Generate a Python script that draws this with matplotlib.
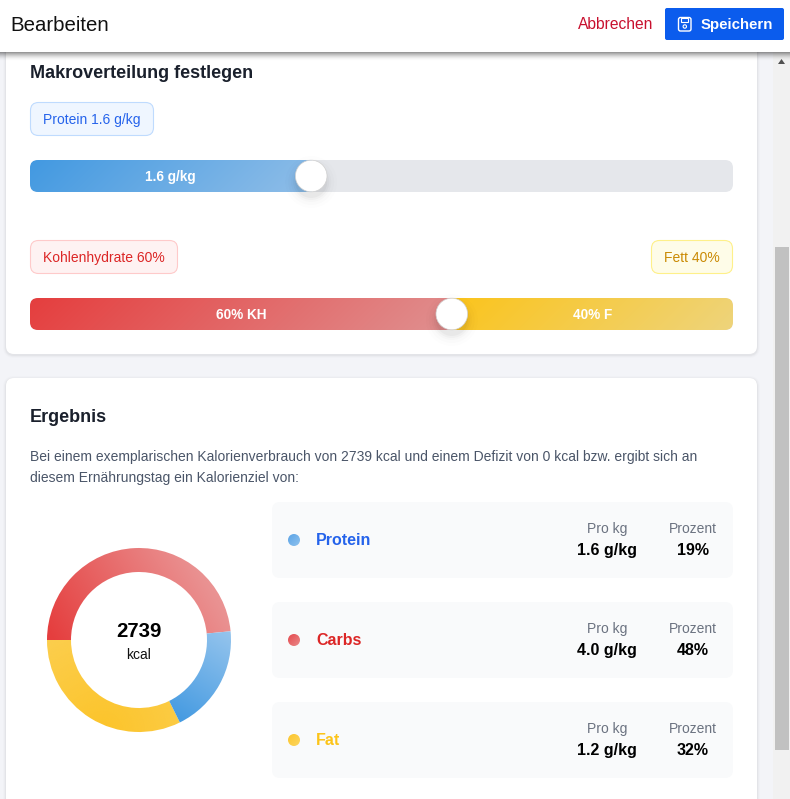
import numpy as np
import matplotlib
matplotlib.use("Agg")
import matplotlib.pyplot as plt
from matplotlib.colors import to_rgb
from matplotlib.patches import FancyBboxPatch, Circle, Polygon, Rectangle

plt.rcParams['font.family'] = ['Liberation Sans', 'DejaVu Sans']

# ---------- data ----------
macro_names = ['Protein', 'Carbs', 'Fat']
per_kg_labels = ['1.6 g/kg', '4.0 g/kg', '1.2 g/kg']
percent_values = [19, 48, 32]
protein_value = 1.6
protein_max = 4.0
carb_share = 60
fat_share = 40
total_kcal = 2739

W, H = 790, 799
fig = plt.figure(figsize=(W / 100, H / 100), dpi=100, facecolor='#f3f4f8')
ax = fig.add_axes([0, 0, 1, 1])
ax.set_axis_off()
PX = 0.72


def grad(target, x0, y0, x1, y1, c0, c1, angle=135, clip=None, zorder=3):
    """Linear CSS-like gradient over a box in pixel coordinates."""
    th = np.deg2rad(angle)
    sx, sy = np.sin(th), -np.cos(th)
    w, h = x1 - x0, y1 - y0
    L = abs(w * sx) + abs(h * sy)
    xs, ys = np.meshgrid(np.linspace(x0, x1, 300), np.linspace(y0, y1, 60))
    t = np.clip(0.5 + ((xs - (x0 + x1) / 2) * sx + (ys - (y0 + y1) / 2) * sy) / L, 0, 1)
    a, b = np.array(to_rgb(c0)), np.array(to_rgb(c1))
    img = a + (b - a) * t[..., None]
    im = target.imshow(img, extent=(x0, x1, y1, y0), aspect='auto', zorder=zorder,
                       interpolation='bilinear')
    if clip is not None:
        im.set_clip_path(clip)
    return im


def rbox(x0, y0, x1, y1, r, fc, ec='none', lw=0, zorder=2, alpha=None):
    p = FancyBboxPatch((x0 + r, y0 + r), x1 - x0 - 2 * r, y1 - y0 - 2 * r,
                       boxstyle=f'round,pad={r},rounding_size={r}', fc=fc, ec=ec,
                       lw=lw, zorder=zorder, alpha=alpha)
    ax.add_patch(p)
    return p


def txt(x, y, s, size, color, weight='normal', ha='left', zorder=8):
    ax.text(x, y, s, fontsize=size * PX, color=color, fontweight=weight, ha=ha,
            va='baseline', zorder=zorder)


def card(x0, y0, x1, y1):
    for i, a in zip((3, 2, 1), (0.012, 0.02, 0.03)):
        rbox(x0 - i, y0 - i + 1, x1 + i, y1 + i + 1, 8 + i, '#000000', alpha=a, zorder=1)
    rbox(x0, y0, x1, y1, 8, '#ffffff', zorder=2)


# ---------- page structure ----------
card(6, 20, 757, 354)
card(6, 378, 757, 840)

ax.add_patch(Rectangle((773, 52), 17, H - 52, fc='#f1f1f1', ec='none', zorder=4))
ax.add_patch(Rectangle((775, 247), 14, 503, fc='#c1c1c1', ec='none', zorder=5))
ax.add_patch(Polygon([(778, 64), (785, 64), (781.5, 59)], fc='#505050', ec='none', zorder=5))

# header
fade = np.linspace(1, 0, 12) ** 2 * 0.42
shadow = np.zeros((12, 1, 4))
shadow[..., 3] = fade[:, None]
ax.imshow(shadow, extent=(0, W, 62, 52), aspect='auto', zorder=9, interpolation='bilinear')
ax.add_patch(Rectangle((0, 0), W, 52, fc='#ffffff', ec='none', zorder=10))
txt(10, 31, 'Bearbeiten', 20.4, '#111111', zorder=11)
txt(578, 29, 'Abbrechen', 15.6, '#c8102e', zorder=11)
rbox(665, 8, 784, 40, 2, '#0b5ced', zorder=11)
txt(701, 29, 'Speichern', 15, '#ffffff', weight='bold', zorder=12)
rbox(678.5, 17.5, 691, 31, 2, 'none', ec='#ffffff', lw=1.0, zorder=12)
ax.add_patch(Rectangle((681, 18), 7, 4, fc='none', ec='#ffffff', lw=0.8, zorder=12))
ax.add_patch(Circle((684.8, 26.5), 1.7, fc='none', ec='#ffffff', lw=0.8, zorder=12))

# ---------- sliders ----------
BAR_L, BAR_R = 30, 733
span = BAR_R - BAR_L
TS = 13.9
txt(30, 78, 'Makroverteilung festlegen', 18, '#1a202c', weight='bold')

rbox(30.5, 102.5, 153.5, 135.5, 8, '#eff6ff', ec='#bfdbfe', lw=0.8)
txt(43, 124, f'Protein {protein_value} g/kg', TS, '#2563eb')

pos = BAR_L + span * protein_value / protein_max
track = rbox(BAR_L, 160, BAR_R, 192, 8, '#e5e7eb')
grad(ax, BAR_L, 160, pos, 192, '#4299e1', '#90bee8', clip=track)
txt((BAR_L + pos) / 2, 181, f'{protein_value} g/kg', 13.6, '#ffffff', weight='bold', ha='center')


def thumb(x, y):
    for r, a in zip((26, 23, 20, 18, 16), (0.008, 0.012, 0.016, 0.022, 0.03)):
        ax.add_patch(Circle((x, y + 6), r, fc='#000000', ec='none', alpha=a, zorder=5))
    ax.add_patch(Circle((x, y), 15.8, fc='#ffffff', ec='#d0d0d0', lw=0.5, zorder=6))


thumb(pos, 176)

rbox(30.5, 240.5, 177.5, 273.5, 8, '#fef2f2', ec='#fecaca', lw=0.8)
txt(43, 262, f'Kohlenhydrate {carb_share}%', TS, '#dc2626')
rbox(651.5, 240.5, 732.5, 273.5, 8, '#fefce8', ec='#fef08a', lw=0.8)
txt(664, 262, f'Fett {fat_share}%', TS, '#ca8a04')

pos2 = BAR_L + span * carb_share / (carb_share + fat_share)
track2 = rbox(BAR_L, 298, BAR_R, 330, 8, '#e5e7eb')
grad(ax, BAR_L, 298, pos2, 330, '#e53e3e', '#e09090', clip=track2)
grad(ax, pos2, 298, BAR_R, 330, '#fbc41c', '#eed47c', clip=track2)
txt((BAR_L + pos2) / 2, 319, f'{carb_share}% KH', 13.6, '#ffffff', weight='bold', ha='center')
txt((pos2 + BAR_R) / 2, 319, f'{fat_share}% F', 13.6, '#ffffff', weight='bold', ha='center')
thumb(pos2, 314)

# ---------- result ----------
txt(30, 422, 'Ergebnis', 18, '#1a202c', weight='bold')
txt(30, 461, f'Bei einem exemplarischen Kalorienverbrauch von {total_kcal} kcal und einem Defizit von 0 kcal bzw. ergibt sich an',
    13.95, '#4a5568')
txt(30, 482, 'diesem Ernährungstag ein Kalorienziel von:', 13.95, '#4a5568')

row_tops = [502, 602, 702]
name_cols = ['#2563eb', '#dc2626', '#fcc419']
dot_cols = [('#5ba3e6', '#8fc2ee'), ('#e5484d', '#ea8a8a'), ('#fcc52c', '#fcd660')]
for top, name, kg, pct, col, dc in zip(row_tops, macro_names, per_kg_labels, percent_values,
                                       name_cols, dot_cols):
    rbox(272, top, 733, top + 76, 8, '#f9fafb')
    dot = Circle((294, top + 38), 6, fc='none', ec='none', zorder=3)
    ax.add_patch(dot)
    grad(ax, 288, top + 32, 300, top + 44, dc[0], dc[1], clip=dot)
    txt(316, top + 43, name, 16, col, weight='bold')
    txt(607, top + 31, 'Pro kg', TS, '#6b7280', ha='center')
    txt(607, top + 53, kg, 16, '#000000', weight='bold', ha='center')
    txt(693, top + 31, 'Prozent', TS, '#6b7280', ha='center')
    txt(693, top + 53, f'{pct}%', 16, '#000000', weight='bold', ha='center')

ax.set_xlim(0, W)
ax.set_ylim(H, 0)

# ---------- donut ----------
CX, CY, R = 139, 640, 92.0
LIM = 1.03
dax = fig.add_axes([(CX - R * LIM) / W, 1 - (CY + R * LIM) / H, 2 * R * LIM / W, 2 * R * LIM / H])
dax.set_axis_off()
order = [macro_names.index(n) for n in ('Carbs', 'Fat', 'Protein')]
vals = [percent_values[i] for i in order]
start = 180 - 360 * vals[0] / sum(vals)
wedges, _ = dax.pie(vals, startangle=start, counterclock=True, radius=1,
                    wedgeprops=dict(width=24 / R, fc='none', ec='none'))
seg_style = [
    ((-0.9, -0.05), (0.6, 0.85), '#e53e3e', '#ea9292'),
    ((-0.4, -1.0), (-1.2, 0.3), '#fcc42a', '#fcd158'),
    ((0.33, -0.85), (1.0, 0.2), '#4299e1', '#9cc8ee'),
]
dax_n = 400
xg, yg = np.meshgrid(np.linspace(-LIM, LIM, dax_n), np.linspace(LIM, -LIM, dax_n))
for w, (p0, p1, c0, c1) in zip(wedges, seg_style):
    p0, p1 = np.array(p0), np.array(p1)
    d = p1 - p0
    if c0 == '#fcc42a':
        t = np.hypot(xg - p0[0], yg - p0[1]) / np.hypot(*d)
    else:
        t = ((xg - p0[0]) * d[0] + (yg - p0[1]) * d[1]) / (d @ d)
    t = np.clip(t, 0, 1)[..., None]
    a, b = np.array(to_rgb(c0)), np.array(to_rgb(c1))
    im = dax.imshow(a + (b - a) * t, extent=(-LIM, LIM, -LIM, LIM), origin='upper', zorder=3,
                    interpolation='bilinear')
    im.set_clip_path(w)
dax.set_xlim(-LIM, LIM)
dax.set_ylim(-LIM, LIM)
dax.set_aspect('auto')

txt(CX, 637, str(total_kcal), 20.4, '#000000', weight='bold', ha='center')
txt(CX, 659, 'kcal', TS, '#111111', ha='center')

fig.savefig('out.png', dpi=100, facecolor=fig.get_facecolor())
